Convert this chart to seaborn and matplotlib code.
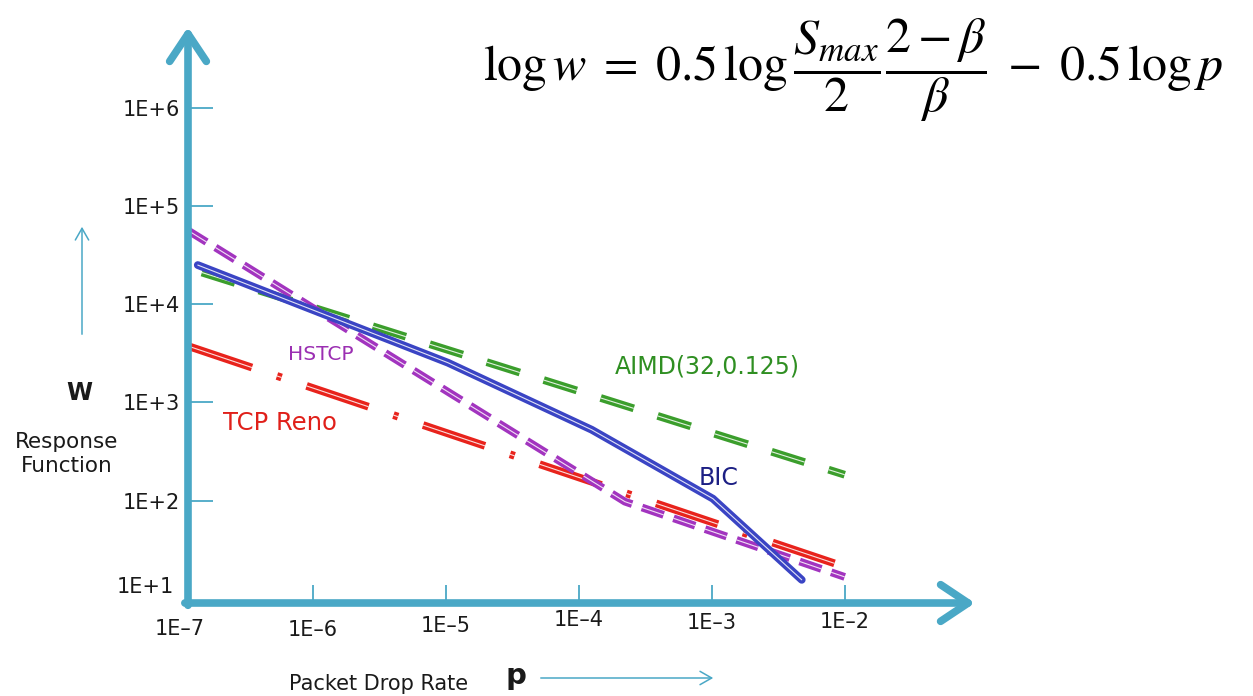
import matplotlib
matplotlib.use("Agg")
import matplotlib.pyplot as plt
import matplotlib.transforms as mtransforms
from matplotlib.patches import FancyArrowPatch
import seaborn as sns

# ---- data ----
aimd_p = [1.46e-7, 1.0e-2]
aimd_w = [2.1e4, 184]

hstcp_p = [1.13e-7, 2.22e-4, 1.0e-2]
hstcp_w = [5.7e4, 98, 16.8]

bic_p = [1.36e-7, 1.035e-5, 1.25e-4, 1.02e-3, 4.75e-3]
bic_w = [2.5e4, 2540, 528, 105, 15.7]

reno_p = [1.19e-7, 1.0e-2]
reno_w = [3690, 21.3]

x_ticks = [1e-6, 1e-5, 1e-4, 1e-3, 1e-2]
x_tick_labels = ["1E–6", "1E–5", "1E–4", "1E–3", "1E–2"]
y_ticks = [1e2, 1e3, 1e4, 1e5, 1e6]
y_tick_labels = ["1E+2", "1E+3", "1E+4", "1E+5", "1E+6"]

# ---- style ----
sns.set_theme(style="white")
plt.rcParams["font.family"] = ["DejaVu Sans"]
plt.rcParams["lines.scale_dashes"] = False
plt.rcParams["mathtext.fontset"] = "stix"

W, H = 1253, 696
fig = plt.figure(figsize=(W / 100, H / 100), dpi=100)
fig.patch.set_facecolor("white")

ax_l, ax_r, ax_b, ax_t = 188, 975, 603, 27
ax = fig.add_axes([ax_l / W, 1 - ax_b / H, (ax_r - ax_l) / W, (ax_b - ax_t) / H])
ax.set_facecolor("white")
ax.set_xscale("log")
ax.set_yscale("log")
ax.set_xlim(10 ** -6.94, 10 ** -1.02)
ax.set_ylim(10 ** 0.96, 10 ** 6.82)
ax.minorticks_off()
for s in ax.spines.values():
    s.set_visible(False)

AXC = "#4aa8c6"
TXT = "#1a1a1a"


def fx(px):
    return px / W


def fy(py):
    return 1 - py / H


def double_line(p, w, color, ls, z):
    sns.lineplot(x=p, y=w, ax=ax, color=color, linewidth=5.6, linestyle=ls,
                 sort=False, estimator=None, zorder=z)
    sns.lineplot(x=p, y=w, ax=ax, color="white", linewidth=0.8, linestyle=ls,
                 sort=False, estimator=None, zorder=z + 0.1, alpha=0.85)


double_line(aimd_p, aimd_w, "#3b9e2c", (0, (25, 18)), 3)
double_line(reno_p, reno_w, "#e8231c", (0, (47, 19, 3.5, 19)), 4)
double_line(hstcp_p, hstcp_w, "#a234bf", (0, (16.5, 7.5)), 5)
double_line(bic_p, bic_w, "#3a44c4", "-", 6)

# ticks
ax.set_xticks(x_ticks)
ax.set_xticklabels(x_tick_labels)
ax.set_yticks(y_ticks)
ax.set_yticklabels(y_tick_labels)
ax.tick_params(axis="y", left=True, direction="in", length=18, width=1.3,
               color=AXC, pad=6, labelsize=15, labelcolor=TXT)
ax.tick_params(axis="x", bottom=True, direction="in", length=13, width=1.3,
               color=AXC, pad=4, labelsize=15, labelcolor=TXT)
ax.grid(False)
# small vertical jitter of the x tick labels, as in the reference (pixels down)
x_label_down = [11, 7, 1, 4, 3]
for lab, dy in zip(ax.get_xticklabels(), x_label_down):
    lab.set_transform(lab.get_transform() +
                      mtransforms.ScaledTranslation(0, -dy / 100, fig.dpi_scale_trans))

# extra labels at corner
tr_x = mtransforms.blended_transform_factory(ax.transData, ax.transAxes)
ax.text(1e-7, -0.028, "1E–7", transform=tr_x, ha="center", va="top",
        fontsize=15, color=TXT, clip_on=False)
tr_y = mtransforms.blended_transform_factory(ax.transAxes, ax.transData)
ax.text(-0.018, 10 ** 1.12, "1E+1", transform=tr_y, ha="right", va="center",
        fontsize=15, color=TXT, clip_on=False)

# axis arrows
arrow_kw = dict(arrowstyle="->,head_length=0.9,head_width=0.6", lw=5.5,
                color=AXC, mutation_scale=22, shrinkA=0, shrinkB=0,
                capstyle="round", joinstyle="round")
ax.annotate("", xy=(0, 1), xytext=(0, -0.004), xycoords="axes fraction",
            arrowprops=arrow_kw, annotation_clip=False, zorder=10)
ax.annotate("", xy=(1, 0), xytext=(-0.004, 0), xycoords="axes fraction",
            arrowprops=arrow_kw, annotation_clip=False, zorder=10)

# series labels
fig.text(fx(321), fy(355), "HSTCP", color="#9b2fb2", fontsize=14.5, ha="center", va="center")
fig.text(fx(707), fy(367), "AIMD(32,0.125)", color="#2f8f22", fontsize=17, ha="center", va="center")
fig.text(fx(280), fy(423), "TCP Reno", color="#e0201a", fontsize=17.5, ha="center", va="center")
fig.text(fx(719), fy(478), "BIC", color="#1c1f84", fontsize=17, ha="center", va="center")

# axis captions
fig.text(fx(79), fy(393), "W", fontsize=17, fontweight="bold", color=TXT, ha="center", va="center")
fig.text(fx(67), fy(454), "Response\nFunction", fontsize=15.5, color=TXT,
         ha="center", va="center", linespacing=1.2)
fig.text(fx(379), fy(684), "Packet Drop Rate", fontsize=15, color=TXT, ha="center", va="center")
fig.text(fx(516), fy(676), "p", fontsize=21, fontweight="bold", color=TXT, ha="center", va="center")
fig.add_artist(FancyArrowPatch(
    (fx(538), fy(678)), (fx(716), fy(678)), transform=fig.transFigure,
    arrowstyle="->,head_length=0.7,head_width=0.4", mutation_scale=12,
    lw=1.1, color=AXC))
fig.add_artist(FancyArrowPatch(
    (fx(82), fy(337)), (fx(82), fy(224)), transform=fig.transFigure,
    arrowstyle="->,head_length=0.7,head_width=0.4", mutation_scale=12,
    lw=1.1, color=AXC))

# formula
fig.text(fx(483), fy(70),
         r"$\log w\;=\;0.5\,\log\dfrac{S_{max}}{2}\dfrac{2-\beta}{\beta}\;-\;0.5\,\log p$",
         fontsize=36, ha="left", va="center", color="black")

fig.savefig("out.png", dpi=100, facecolor="white")
